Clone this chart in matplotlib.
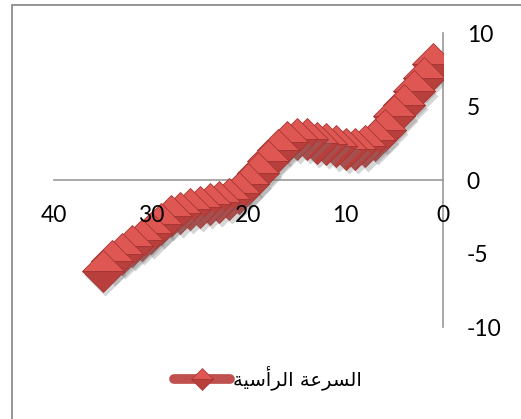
import matplotlib
matplotlib.use("Agg")
import matplotlib.pyplot as plt
from matplotlib.lines import Line2D
from matplotlib.patches import Rectangle
from matplotlib.transforms import offset_copy

# ---- data ----
time_s = list(range(1, 36))
vertical_speed = [7.9, 6.95, 6.05, 5.15, 4.35, 3.45, 2.75, 2.3, 2.15, 2.15,
                  2.3, 2.45, 2.55, 2.8, 2.8, 2.6, 2.05, 1.3, 0.5, -0.25,
                  -0.85, -1.25, -1.48, -1.62, -1.82, -1.97, -2.22, -2.45, -2.98, -3.62,
                  -4.07, -4.48, -5.0, -5.5, -6.18]
series_name = "السرعة الرأسية"
x_ticks = [0, 10, 20, 30, 40]
y_ticks = [-10, -5, 0, 5, 10]

# Arabic presentation forms (shaped, visual order) for rendering without a shaping engine
_forms = {
    "ا": {"iso": "\uFE8D", "fin": "\uFE8E", "join": "R"},
    "أ": {"iso": "\uFE83", "fin": "\uFE84", "join": "R"},
    "ر": {"iso": "\uFEAD", "fin": "\uFEAE", "join": "R"},
    "ة": {"iso": "\uFE93", "fin": "\uFE94", "join": "R"},
    "ل": {"iso": "\uFEDD", "fin": "\uFEDE", "ini": "\uFEDF", "med": "\uFEE0", "join": "D"},
    "س": {"iso": "\uFEB1", "fin": "\uFEB2", "ini": "\uFEB3", "med": "\uFEB4", "join": "D"},
    "ع": {"iso": "\uFEC9", "fin": "\uFECA", "ini": "\uFECB", "med": "\uFECC", "join": "D"},
    "ي": {"iso": "\uFEF1", "fin": "\uFEF2", "ini": "\uFEF3", "med": "\uFEF4", "join": "D"},
}


def shape_arabic(text):
    out = []
    for i, ch in enumerate(text):
        f = _forms.get(ch)
        if f is None:
            out.append(ch)
            continue
        prev = _forms.get(text[i - 1]) if i > 0 else None
        nxt = _forms.get(text[i + 1]) if i + 1 < len(text) else None
        join_prev = prev is not None and prev["join"] == "D"
        join_next = nxt is not None and f["join"] == "D"
        if join_prev and join_next:
            out.append(f["med"])
        elif join_prev:
            out.append(f["fin"])
        elif join_next:
            out.append(f["ini"])
        else:
            out.append(f["iso"])
    return "".join(reversed(out))


W, H = 521, 419
fig = plt.figure(figsize=(W / 100, H / 100), dpi=100)
fig.patch.set_facecolor("white")
ax = fig.add_axes([54 / W, 1 - 327 / H, (443 - 54) / W, (327 - 33.5) / H])
ax.set_facecolor("none")

light = "#df5753"
dark = "#b93f3c"
edge = "#a53633"
MS = 21

ax.plot(time_s, vertical_speed, color="#c0504d", lw=7, solid_capstyle="round", zorder=2)
shadow_tr = offset_copy(ax.transData, fig=fig, x=2.0, y=-3.0, units="points")
for xi, yi in zip(time_s, vertical_speed):
    ax.plot([xi], [yi], marker="D", ms=MS, color="none", markerfacecolor="#7a7a7a",
             markeredgecolor="none", alpha=0.3, transform=shadow_tr, zorder=3)
    ax.plot([xi], [yi], marker="D", ms=MS, color="none", fillstyle="top",
             markerfacecolor=light, markerfacecoloralt=dark,
             markeredgecolor=edge, markeredgewidth=0.6, zorder=3)

ax.set_xlim(40, 0)
ax.set_ylim(-10, 10)
ax.set_xticks(x_ticks)
ax.set_yticks(y_ticks)
ax.set_xticklabels([str(v) for v in x_ticks])
ax.set_yticklabels([str(v) for v in y_ticks])

for s in ["top", "left"]:
    ax.spines[s].set_visible(False)
ax.spines["bottom"].set_position(("data", 0))
ax.spines["right"].set_position(("data", 0))
for s in ["bottom", "right"]:
    ax.spines[s].set_color("#9a9a9a")
    ax.spines[s].set_linewidth(1.2)
    ax.spines[s].set_zorder(1)
ax.xaxis.set_zorder(5)
ax.yaxis.set_zorder(5)

ax.yaxis.tick_right()
ax.tick_params(axis="x", length=0, pad=18, labelsize=16.5, labelcolor="black")
ax.tick_params(axis="y", length=0, pad=17, labelsize=16.5, labelcolor="black")
for lab in ax.get_xticklabels() + ax.get_yticklabels():
    lab.set_family(["Lato", "DejaVu Sans"])
for lab in ax.get_yticklabels():
    lab.set_horizontalalignment("left")

handle = Line2D([], [], color="#c0504d", lw=7, solid_capstyle="round", marker="D", ms=11,
                fillstyle="top", markerfacecolor=light, markerfacecoloralt=dark,
                markeredgecolor=edge, markeredgewidth=0.5)
leg = ax.legend([handle], [shape_arabic(series_name)], loc="center",
                bbox_to_anchor=(268 / W, 1 - 378 / H), bbox_transform=fig.transFigure,
                frameon=False, handlelength=2.9, handletextpad=0.15,
                prop={"family": ["DejaVu Sans"], "size": 14})

fig.patches.append(Rectangle((12 / W, -0.1), 1.2, (1 - 5 / H) + 0.1, transform=fig.transFigure,
                             fill=False, ec="#8c8c8c", lw=1.3))

fig.savefig("out.png", dpi=100)
